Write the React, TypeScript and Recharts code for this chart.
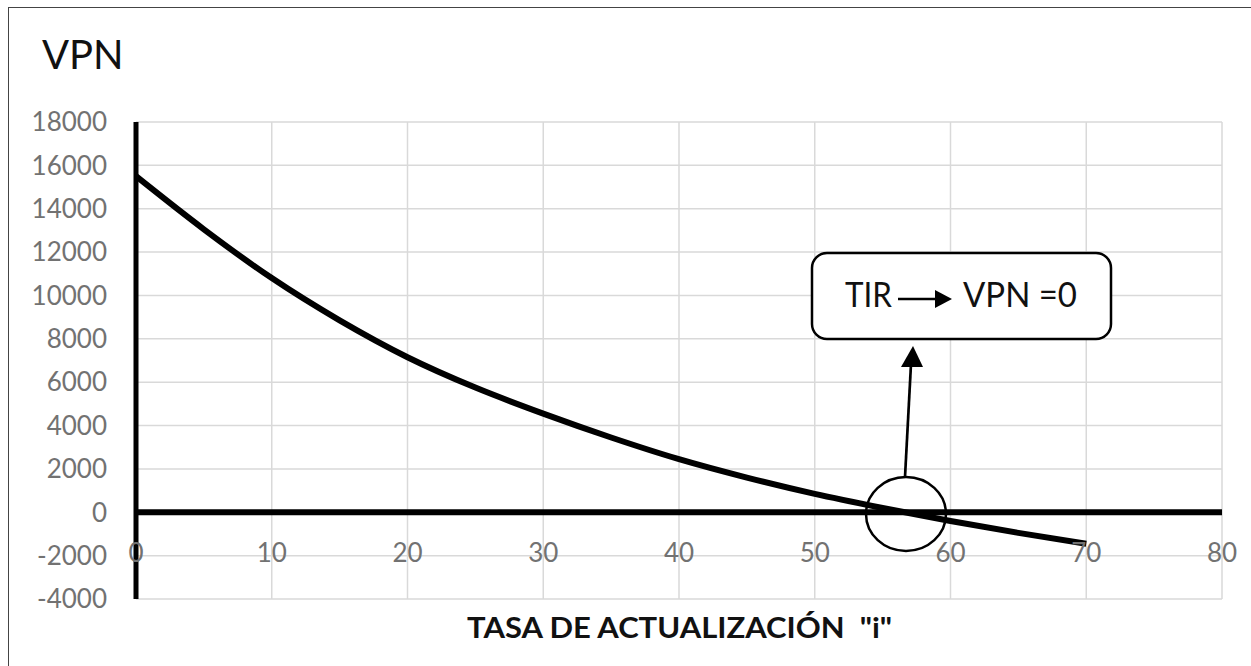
import React from 'react';
import { LineChart, Line, XAxis, YAxis, CartesianGrid, ReferenceLine } from 'recharts';

const rates = [0, 5, 10, 15, 20, 25, 30, 35, 40, 45, 50, 55, 60, 65, 70];
const vpnValues = [15500, 13050, 10800, 8850, 7150, 5750, 4550, 3450, 2450, 1600, 850, 200, -400, -950, -1450];
const xTicks = [0, 10, 20, 30, 40, 50, 60, 70, 80];
const yTicks = [-4000, -2000, 0, 2000, 4000, 6000, 8000, 10000, 12000, 14000, 16000, 18000];

const data = rates.map((i, idx) => ({ i, vpn: vpnValues[idx] }));

const FONT = 'Lato, "Open Sans", sans-serif';
const TICK_COLOR = '#727272';

// x labels sit next to the zero axis, not at the bottom of the plot
const XTick = (props: any) => {
  const { x, y, payload } = props;
  return (
    <text x={x} y={y - 37} textAnchor="middle" fill={TICK_COLOR} fontSize={26} fontFamily={FONT}>
      {payload.value}
    </text>
  );
};

export default function App() {
  return (
    <div style={{ position: 'fixed', left: 0, top: 0, width: 1251, height: 666, background: '#fff' }}>
      <div
        style={{
          position: 'absolute',
          left: 8,
          top: 7,
          width: 1260,
          height: 680,
          borderTop: '1.5px solid #444',
          borderLeft: '1.5px solid #444',
        }}
      />
      <div style={{ position: 'absolute', left: 0, top: 0 }}>
        <LineChart width={1251} height={666} data={data} margin={{ top: 122, right: 29, bottom: 37, left: 0 }}>
          <CartesianGrid stroke="#d9d9d9" strokeWidth={1.5} />
          <XAxis
            type="number"
            dataKey="i"
            domain={[0, 80]}
            ticks={xTicks}
            height={30}
            axisLine={false}
            tickLine={false}
            tickSize={0}
            tickMargin={0}
            tick={<XTick />}
            interval={0}
          />
          <YAxis
            type="number"
            domain={[-4000, 18000]}
            ticks={yTicks}
            width={136}
            interval={0}
            tickLine={false}
            tickSize={0}
            tickMargin={29}
            axisLine={{ stroke: '#000', strokeWidth: 5 }}
            tick={{ fill: TICK_COLOR, fontSize: 26, fontFamily: FONT }}
          />
          <ReferenceLine y={0} stroke="#000" strokeWidth={6} />
          <Line
            type="monotone"
            dataKey="vpn"
            stroke="#000"
            strokeWidth={6}
            dot={false}
            isAnimationActive={false}
          />
        </LineChart>
      </div>
      <svg
        width={1251}
        height={666}
        style={{ position: 'absolute', left: 0, top: 0, pointerEvents: 'none' }}
      >
        <text x={42} y={69} fontSize={40} fontFamily={FONT} fill="#111">
          VPN
        </text>
        <text
          x={467}
          y={638}
          fontSize={29}
          fontWeight="bold"
          fontFamily={FONT}
          fill="#111"
          textLength={425}
          lengthAdjust="spacingAndGlyphs"
          style={{ whiteSpace: 'pre' }}
        >
          {'TASA DE ACTUALIZACIÓN  "i"'}
        </text>

        <rect x={812} y={253} width={299} height={86} rx={15} fill="#fff" stroke="#000" strokeWidth={2.5} />
        <text x={845} y={307} fontSize={35} fontFamily={FONT} fill="#111" textLength={47} lengthAdjust="spacingAndGlyphs">
          TIR
        </text>
        <line x1={898} y1={299} x2={937} y2={299} stroke="#000" strokeWidth={2.5} />
        <polygon points="952,299 935,290 935,308" fill="#000" />
        <text x={963} y={307} fontSize={35} fontFamily={FONT} fill="#111" textLength={114} lengthAdjust="spacingAndGlyphs">
          VPN =0
        </text>

        <line x1={905} y1={477} x2={911} y2={364} stroke="#000" strokeWidth={2.7} />
        <polygon points="913,346 901,367 923,367" fill="#000" />
        <ellipse cx={906} cy={514} rx={40} ry={37} fill="none" stroke="#000" strokeWidth={2.5} />
      </svg>
    </div>
  );
}
